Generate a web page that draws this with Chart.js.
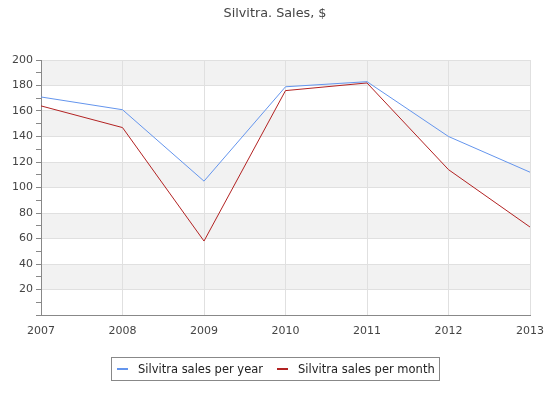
<!DOCTYPE html>
<html>
<head>
<meta charset="utf-8">
<script src="https://cdn.jsdelivr.net/npm/chart.js@4/dist/chart.umd.min.js"></script>
<style>
  body { margin: 0; background: #fff; font-family: "DejaVu Sans", sans-serif; }
  #wrap { position: relative; width: 550px; height: 420px; }
  #titulo {
    position: absolute; left: 0; top: 5px; width: 550px; text-align: center;
    font-size: 12.8px; line-height: 16px; color: #444;
  }
  #leyenda {
    position: absolute; left: 111px; top: 357px; width: 327px; height: 22px;
    border: 1px solid #888; display: flex; align-items: center;
    font-size: 11.5px; color: #222; box-sizing: content-box;
  }
  .item { display: flex; align-items: center; }
  .marca { display: inline-block; width: 11px; height: 2px; margin-right: 10px; }
</style>
</head>
<body>
<div id="wrap">
  <canvas id="grafica" width="550" height="420"></canvas>
  <div id="titulo">Silvitra. Sales, $</div>
  <div id="leyenda"></div>
</div>
<script>
// datos
const ANIOS = ['2007', '2008', '2009', '2010', '2011', '2012', '2013'];
const VENTAS_ANIO = [171, 161, 105, 179, 183, 140, 112];
const VENTAS_MES  = [164, 147, 58, 176, 182, 114, 69];
const SERIES = ['Silvitra sales per year', 'Silvitra sales per month'];
const COLORES = ['#6495ED', '#B22222'];
const BANDAS = [[20, 40], [60, 80], [100, 120], [140, 160], [180, 200]];

// franjas grises de fondo
const pluginBandas = {
  id: 'bandas',
  beforeDraw(chart) {
    const { ctx, chartArea: a, scales: { y } } = chart;
    ctx.save();
    ctx.fillStyle = '#f2f2f2';
    BANDAS.forEach(([lo, hi]) => {
      const y1 = y.getPixelForValue(hi), y2 = y.getPixelForValue(lo);
      ctx.fillRect(a.left, y1, a.right - a.left, y2 - y1);
    });
    ctx.restore();
  }
};

Chart.defaults.font.family = '"DejaVu Sans", sans-serif';
Chart.defaults.color = '#444';

new Chart(document.getElementById('grafica'), {
  type: 'line',
  data: {
    labels: ANIOS,
    datasets: [
      { label: SERIES[0], data: VENTAS_ANIO, borderColor: COLORES[0], borderWidth: 1, pointRadius: 0, tension: 0 },
      { label: SERIES[1], data: VENTAS_MES, borderColor: COLORES[1], borderWidth: 1, pointRadius: 0, tension: 0 }
    ]
  },
  options: {
    responsive: false,
    animation: false,
    layout: { padding: { left: 0, right: 20, top: 60, bottom: 0 } },
    plugins: {
      legend: { display: false },
      tooltip: { enabled: false },
      title: { display: false }
    },
    scales: {
      x: {
        offset: false,
        grid: { color: '#e0e0e0', drawTicks: false },
        border: { color: '#888' },
        ticks: { font: { size: 11 }, padding: 10, maxRotation: 0 },
        afterFit(s) { s.height = 105; s.paddingLeft = 0; s.paddingRight = 0; }
      },
      y: {
        min: 0, max: 200,
        grid: {
          color: c => (c.tick && c.tick.value % 20 === 0) ? '#e0e0e0' : 'rgba(0,0,0,0)',
          tickColor: '#888',
          tickLength: 5
        },
        border: { color: '#888' },
        ticks: {
          stepSize: 10, autoSkip: false, padding: 3,
          font: { size: 11 },
          callback: v => (v % 20 === 0 && v !== 0) ? v : ''
        },
        afterFit(s) { s.width = 41; s.paddingTop = 0; }
      }
    }
  },
  plugins: [pluginBandas]
});

// leyenda en HTML
document.getElementById('leyenda').innerHTML = SERIES.map((l, i) => `
  <span class="item" style="margin-left:${i === 0 ? 5 : 14}px">
    <span class="marca" style="background:${COLORES[i]}"></span>${l}
  </span>`).join('');
</script>
</body>
</html>
